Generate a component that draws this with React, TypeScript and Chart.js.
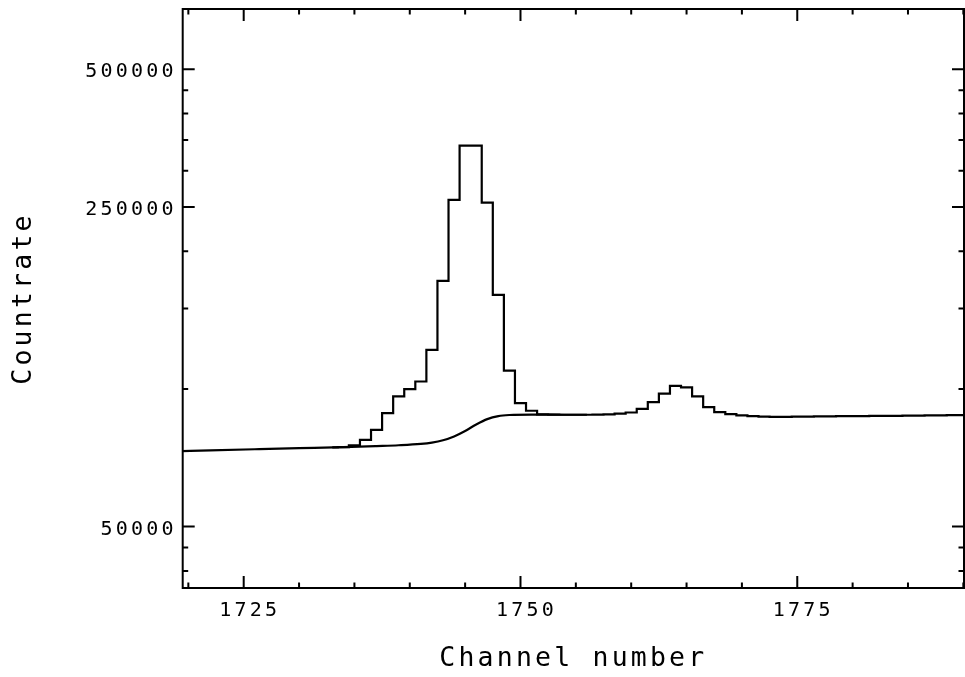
import React, { useEffect, useRef } from 'react';
import { Chart, registerables } from 'chart.js';

Chart.register(...registerables);

// ---- axis ticks ----
const xTickValues = [1720, 1725, 1730, 1735, 1740, 1745, 1750, 1755, 1760, 1765, 1770, 1775, 1780, 1785, 1790];
const xLabelValues = [1725, 1750, 1775];
const yTickValues = [40000, 45000, 50000, 100000, 150000, 200000, 250000, 300000, 350000, 400000, 450000, 500000];
const yLabelValues = [50000, 250000, 500000];

// ---- measured spectrum (histogram, one value per channel) ----
const histChannels = [
  1733, 1734, 1735, 1736, 1737, 1738, 1739, 1740, 1741, 1742, 1743, 1744, 1745, 1746, 1747, 1748, 1749, 1750,
  1751, 1752, 1753, 1754, 1755, 1756, 1757, 1758, 1759, 1760, 1761, 1762, 1763, 1764, 1765, 1766, 1767, 1768,
  1769, 1770, 1771, 1772, 1773, 1774, 1775, 1776, 1777, 1778, 1779, 1780, 1781, 1782, 1783, 1784, 1785, 1786,
  1787, 1788, 1789, 1790, 1791,
];
const histCounts = [
  74500, 74600, 75300, 77400, 81400, 88500, 96300, 99900, 103800, 121700, 172300, 259000, 340400, 340400, 255400, 160600, 109600, 93100,
  89600, 88000, 87900, 87800, 87800, 87800, 87900, 88000, 88300, 88800, 90400, 93600, 97700, 101500, 100800, 96300, 91200, 89000,
  88100, 87500, 87200, 87000, 86900, 86900, 87000, 87000, 87100, 87100, 87200, 87200, 87200, 87300, 87300, 87300, 87400, 87400,
  87500, 87500, 87600, 87600, 87600,
];

// ---- smooth background curve ----
const bgChannels = [1719, 1722, 1726, 1730, 1734, 1737, 1739, 1741, 1742, 1743, 1744, 1745, 1746, 1747, 1748, 1749, 1751, 1754, 1756];
const bgCounts = [73100, 73400, 73800, 74200, 74600, 75000, 75300, 75800, 76300, 77200, 78700, 80900, 83600, 85900, 87200, 87700, 87900, 87800, 87800];

const X_MIN = 1719.49;
const X_MAX = 1790.06;
const Y_MIN = 36700;
const Y_MAX = 677300;

const FONT = '"DejaVu Sans Mono", monospace';
const SPACING = '3.2px';

const spacingPlugin = {
  id: 'letterSpacing',
  beforeUpdate(chart: any) { (chart.ctx as any).letterSpacing = SPACING; },
  beforeLayout(chart: any) { (chart.ctx as any).letterSpacing = SPACING; },
  beforeDraw(chart: any) { (chart.ctx as any).letterSpacing = SPACING; },
};

const framePlugin = {
  id: 'frameTicks',
  afterDraw(chart: any) {
    const { ctx, chartArea, scales } = chart;
    const { left, right, top, bottom } = chartArea;
    const x = scales.x;
    const y = scales.y;
    ctx.save();
    ctx.strokeStyle = '#000';
    ctx.lineWidth = 2;
    ctx.strokeRect(left, top, right - left, bottom - top);
    ctx.beginPath();
    for (const v of xTickValues) {
      const px = x.getPixelForValue(v);
      const len = xLabelValues.includes(v) ? 12 : 5.5;
      ctx.moveTo(px, bottom); ctx.lineTo(px, bottom - len);
      ctx.moveTo(px, top); ctx.lineTo(px, top + len);
    }
    for (const v of yTickValues) {
      const py = y.getPixelForValue(v);
      const len = yLabelValues.includes(v) ? 12 : 5.5;
      ctx.moveTo(left, py); ctx.lineTo(left + len, py);
      ctx.moveTo(right, py); ctx.lineTo(right - len, py);
    }
    ctx.stroke();
    ctx.restore();
  },
};

const noPad = (s: any) => {
  s.paddingTop = 0;
  s.paddingBottom = 0;
  s.paddingLeft = 0;
  s.paddingRight = 0;
};

export default function App() {
  const ref = useRef<HTMLCanvasElement | null>(null);

  useEffect(() => {
    if (!ref.current) return;
    const chart = new Chart(ref.current, {
      type: 'line',
      data: {
        datasets: [
          {
            label: 'Countrate',
            data: histChannels.map((c, i) => ({ x: c, y: histCounts[i] })),
            stepped: 'middle',
            borderColor: '#000',
            borderWidth: 2.2,
            pointRadius: 0,
            fill: false,
            clip: 0,
          },
          {
            label: 'Background',
            data: bgChannels.map((c, i) => ({ x: c, y: bgCounts[i] })),
            cubicInterpolationMode: 'monotone',
            borderColor: '#000',
            borderWidth: 2.2,
            pointRadius: 0,
            fill: false,
            clip: 0,
          },
        ],
      },
      options: {
        animation: false,
        responsive: false,
        devicePixelRatio: 1,
        layout: { padding: { left: 0, top: 9, right: 1, bottom: 0 } },
        plugins: { legend: { display: false }, tooltip: { enabled: false } },
        scales: {
          x: {
            type: 'linear',
            min: X_MIN,
            max: X_MAX,
            afterBuildTicks: (s: any) => { s.ticks = xTickValues.map((v) => ({ value: v })); },
            afterFit: (s: any) => { s.height = 89; noPad(s); },
            grid: { display: false, drawTicks: false },
            border: { display: false },
            ticks: {
              autoSkip: false,
              maxRotation: 0,
              padding: 10.5,
              labelOffset: 6,
              color: '#000',
              font: { family: FONT, size: 20 },
              callback: (v: any) => (xLabelValues.includes(Number(v)) ? String(v) : ''),
            },
            title: {
              display: true,
              text: 'Channel number',
              color: '#000',
              font: { family: FONT, size: 26.5 },
              padding: { top: 0, bottom: 2.3 },
            },
          },
          y: {
            type: 'logarithmic',
            min: Y_MIN,
            max: Y_MAX,
            afterBuildTicks: (s: any) => { s.ticks = yTickValues.map((v) => ({ value: v })); },
            afterFit: (s: any) => { s.width = 182.7; noPad(s); },
            grid: { display: false, drawTicks: false },
            border: { display: false },
            ticks: {
              autoSkip: false,
              padding: 6,
              labelOffset: 2.8,
              color: '#000',
              font: { family: FONT, size: 20 },
              callback: (v: any) => (yLabelValues.includes(Number(v)) ? String(v) : ''),
            },
            title: {
              display: true,
              text: 'Countrate',
              color: '#000',
              font: { family: FONT, size: 26.5 },
              padding: { top: 8.5, bottom: 0 },
            },
          },
        },
      } as any,
      plugins: [spacingPlugin, framePlugin],
    });
    return () => chart.destroy();
  }, []);

  return (
    <div style={{ position: 'fixed', left: 0, top: 0, width: 965, height: 677, background: '#fff' }}>
      <canvas ref={ref} width={965} height={677} style={{ display: 'block' }} />
    </div>
  );
}
